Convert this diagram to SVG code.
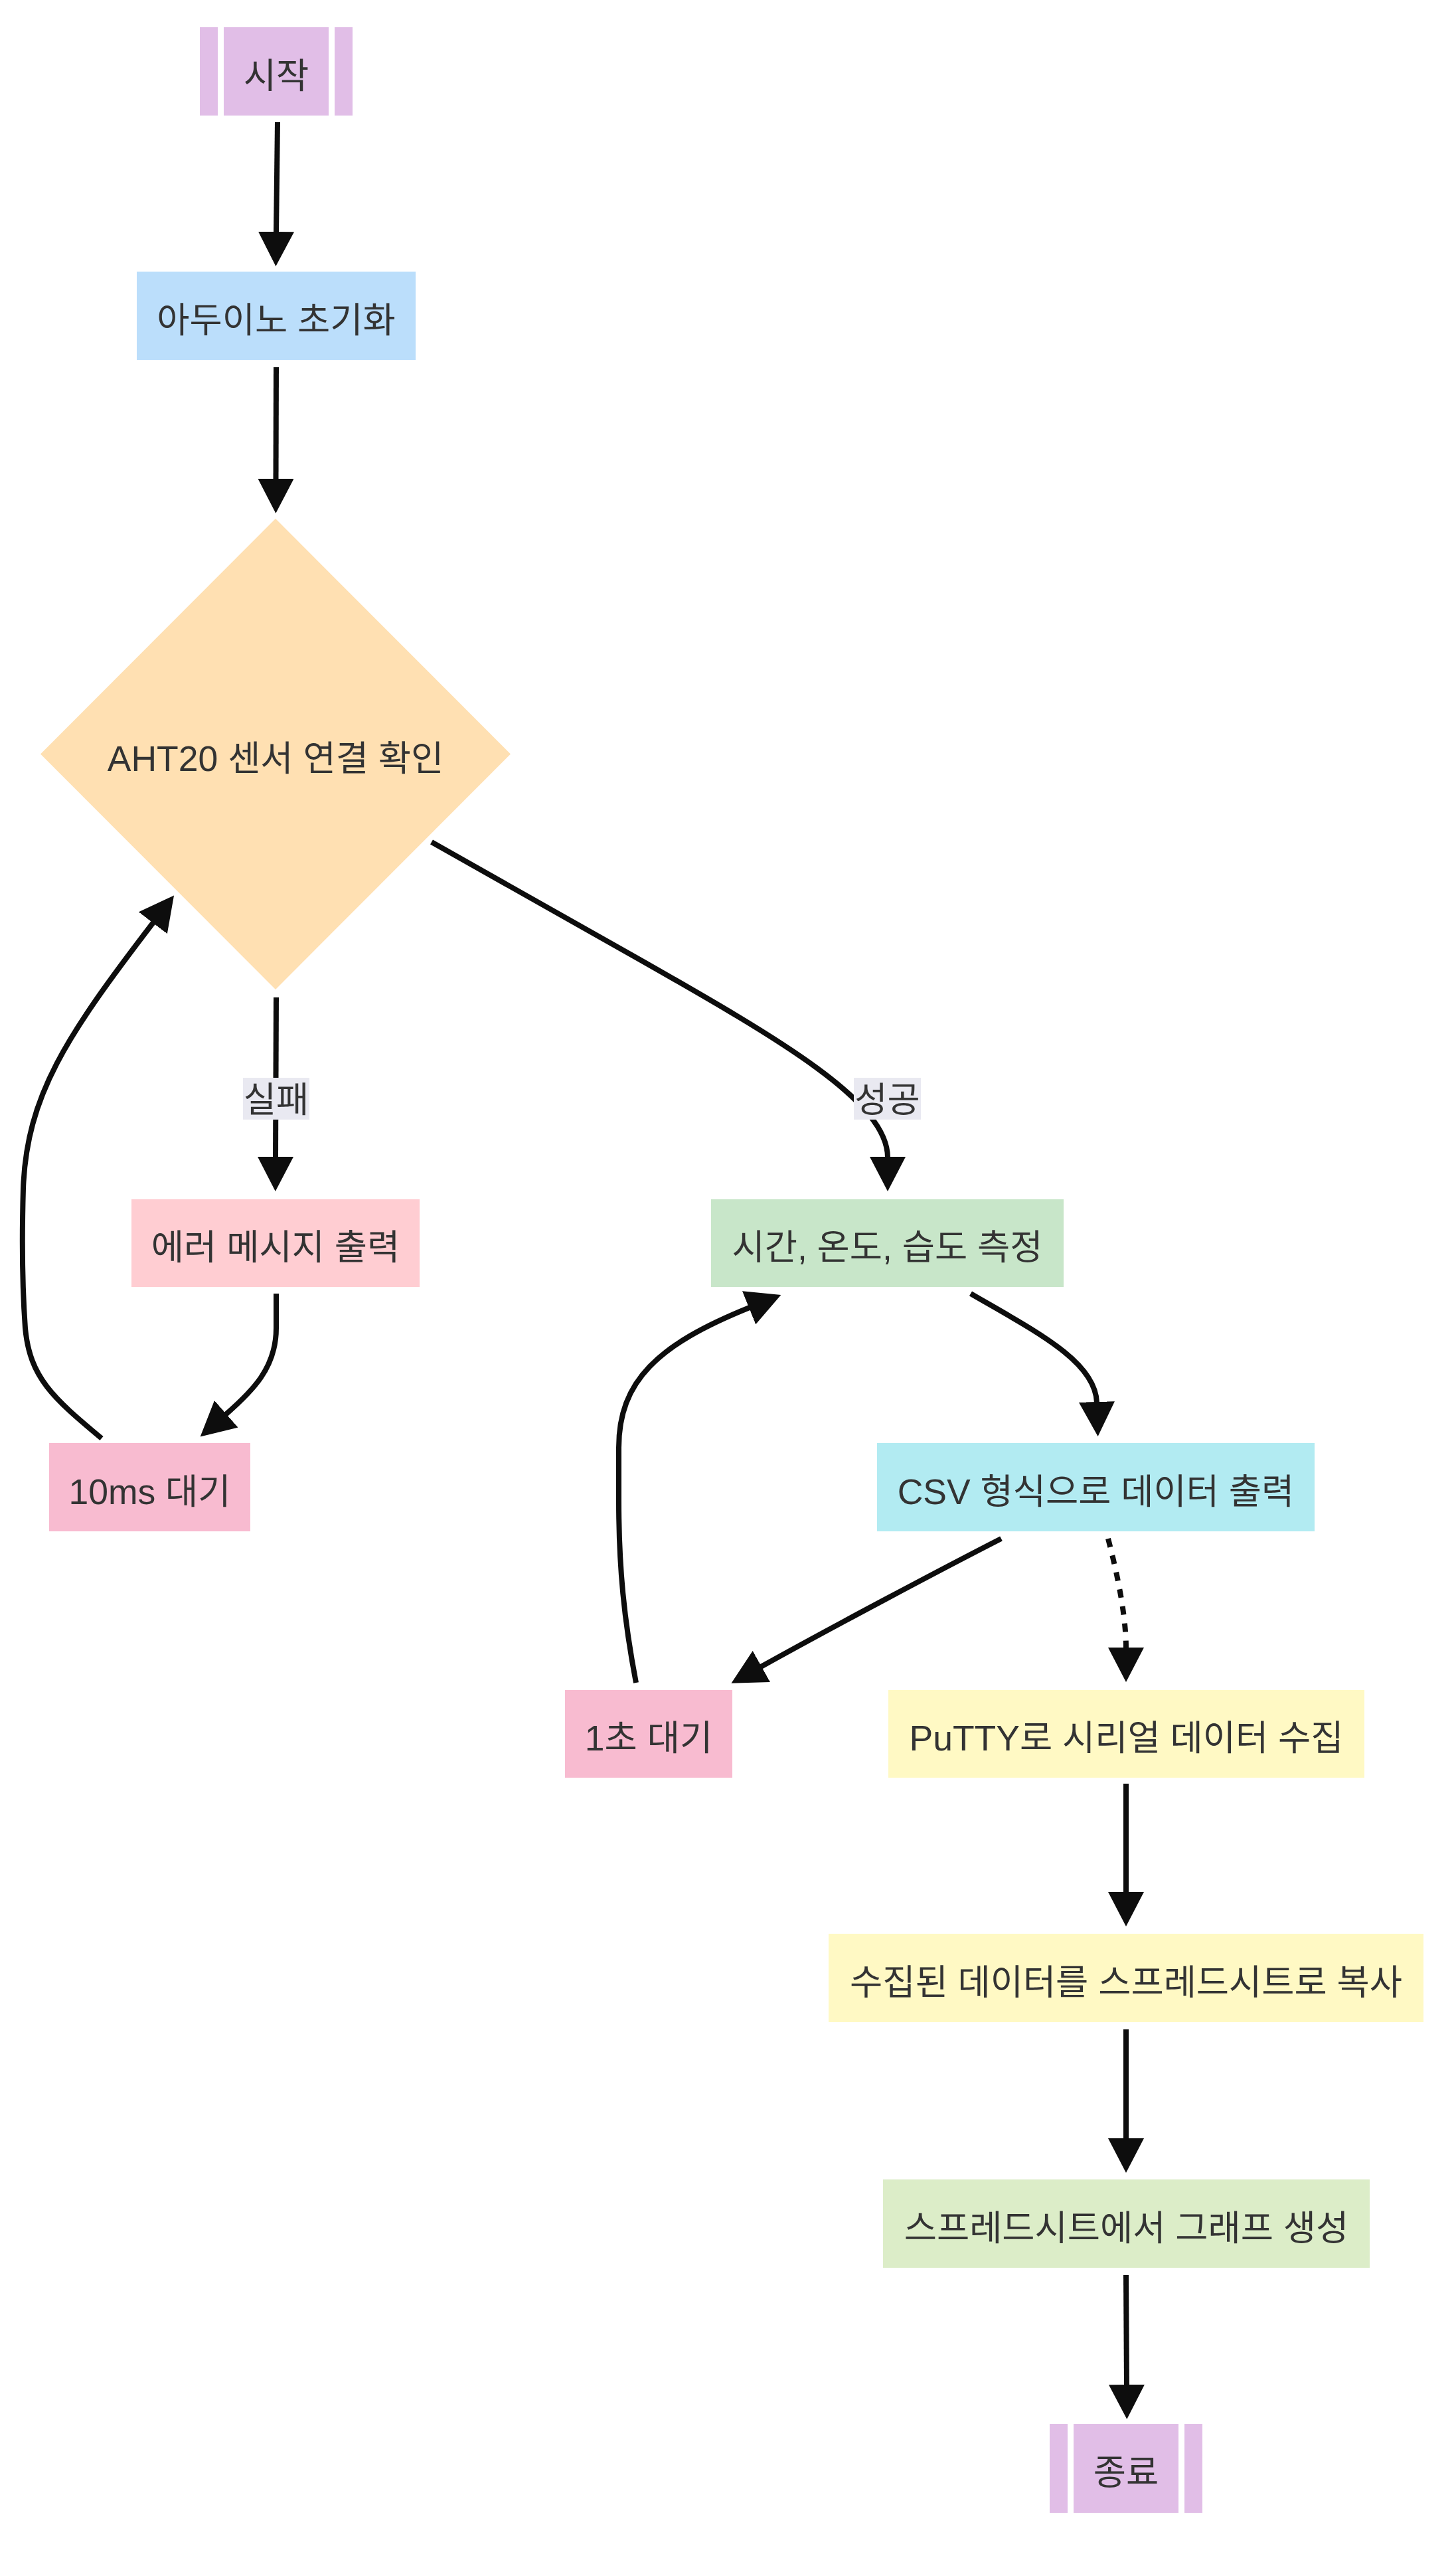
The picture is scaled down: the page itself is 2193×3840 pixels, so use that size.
<svg xmlns="http://www.w3.org/2000/svg" width="2193" height="3840" viewBox="0 0 2193 3840">
<style>
.t{font-family:"Liberation Sans","Noto Sans CJK KR",sans-serif;font-size:53.5px;fill:#333333;text-anchor:middle}
.e{fill:none;stroke:#0d0d0d;stroke-width:8}
.d{stroke-dasharray:13 13}
.lb{fill:#E9E9F1}
</style>
<defs>
<marker id="ah" markerUnits="userSpaceOnUse" viewBox="0 0 52 54" refX="1" refY="27" markerWidth="52" markerHeight="54" orient="auto">
<path d="M0,0 L52,27 L0,54 z" fill="#0d0d0d"/>
</marker>
</defs>
<rect width="2193" height="3840" fill="#ffffff"/>
<g id="edges">
<path class="e" d="M418,184 L416,350" marker-end="url(#ah)"/>
<path class="e" d="M416,553 L415.5,722" marker-end="url(#ah)"/>
<path class="e" d="M416,1502 L415,1743" marker-end="url(#ah)"/>
<path class="e" d="M650,1268 L960,1443 C1180,1568 1337,1660 1337,1743" marker-end="url(#ah)"/>
<path class="e" d="M416,1948 L416,2000 C416,2060 380,2095 340,2130" marker-end="url(#ah)"/>
<path class="e" d="M153,2166 C80,2105 45,2075 38,2000 C33,1930 33,1860 35,1790 C40,1650 100,1560 231,1389" marker-end="url(#ah)"/>
<path class="e" d="M1462,1948 C1560,2005 1650,2050 1652,2112" marker-end="url(#ah)"/>
<path class="e" d="M1508,2317 C1420,2362 1250,2452 1146,2510" marker-end="url(#ah)"/>
<path class="e" d="M958,2534 C940,2440 932,2360 932,2260 L932,2180 C932,2080 990,2025 1129,1969" marker-end="url(#ah)"/>
<path class="e d" d="M1669,2317 Q1696,2420 1696,2482" marker-end="url(#ah)"/>
<path class="e" d="M1696,2686 L1696,2850" marker-end="url(#ah)"/>
<path class="e" d="M1696,3056 L1696,3221" marker-end="url(#ah)"/>
<path class="e" d="M1696,3426 L1697,3592" marker-end="url(#ah)"/>
<g id="label-fail">
<rect class="lb" x="366" y="1623" width="100" height="63"/>
<text class="t" x="416" y="1675">실패</text>
</g>
<g id="label-success">
<rect class="lb" x="1286" y="1623" width="101" height="63"/>
<text class="t" x="1336.5" y="1675">성공</text>
</g>
</g>
<g id="start">
<rect x="301" y="41" width="230" height="133" fill="#E1BEE7"/>
<rect x="328" y="41" width="9" height="133" fill="#ffffff"/>
<rect x="495" y="41" width="9" height="133" fill="#ffffff"/>
<text class="t" x="416" y="132.5">시작</text>
</g>
<g id="init">
<rect x="206" y="409" width="420" height="133" fill="#BBDEFB"/>
<text class="t" x="416" y="500.5">아두이노 초기화</text>
</g>
<g id="check">
<polygon points="415,781 769,1135.5 415,1490 61,1135.5" fill="#FFE0B2"/>
<text class="t" x="415" y="1161">AHT20 센서 연결 확인</text>
</g>
<g id="error">
<rect x="198" y="1806" width="434" height="132" fill="#FFCDD2"/>
<text class="t" x="415" y="1897">에러 메시지 출력</text>
</g>
<g id="wait10">
<rect x="74" y="2173" width="303" height="133" fill="#F8BBD0"/>
<text class="t" x="225.5" y="2264.5">10ms 대기</text>
</g>
<g id="measure">
<rect x="1071" y="1806" width="531" height="132" fill="#C8E6C9"/>
<text class="t" x="1336.5" y="1897">시간, 온도, 습도 측정</text>
</g>
<g id="csv">
<rect x="1321" y="2173" width="659" height="133" fill="#B2EBF2"/>
<text class="t" x="1650.5" y="2264.5">CSV 형식으로 데이터 출력</text>
</g>
<g id="wait1">
<rect x="851" y="2545" width="252" height="132" fill="#F8BBD0"/>
<text class="t" x="977" y="2636">1초 대기</text>
</g>
<g id="putty">
<rect x="1338" y="2545" width="717" height="132" fill="#FFF9C4"/>
<text class="t" x="1696.5" y="2636">PuTTY로 시리얼 데이터 수집</text>
</g>
<g id="copy">
<rect x="1248" y="2912" width="896" height="133" fill="#FFF9C4"/>
<text class="t" x="1696" y="3003.5">수집된 데이터를 스프레드시트로 복사</text>
</g>
<g id="graph">
<rect x="1330" y="3282" width="733" height="133" fill="#DCEDC8"/>
<text class="t" x="1696.5" y="3373.5">스프레드시트에서 그래프 생성</text>
</g>
<g id="end">
<rect x="1581" y="3650" width="230" height="134" fill="#E1BEE7"/>
<rect x="1608" y="3650" width="9" height="134" fill="#ffffff"/>
<rect x="1775" y="3650" width="9" height="134" fill="#ffffff"/>
<text class="t" x="1696" y="3742">종료</text>
</g>
</svg>
